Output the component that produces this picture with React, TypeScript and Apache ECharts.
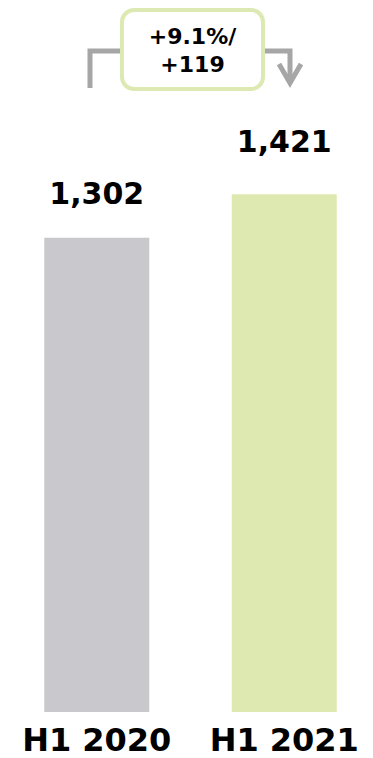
import React, { useEffect, useRef } from "react";
import * as echarts from "echarts";

const categories = ["H1 2020", "H1 2021"];
const values = [1302, 1421];
const barColors = ["#c8c8cd", "#dde9b0"];
const changeLines = ["+9.1%/", "+119"];

const FONT = "DejaVu Sans";

export default function App() {
  const ref = useRef<HTMLDivElement>(null);
  useEffect(() => {
    if (!ref.current) return;
    const chart = echarts.init(ref.current, null, { renderer: "svg" });
    const labelDistances = [29, 38];
    chart.setOption({
      animation: false,
      grid: { left: 3, width: 375, top: 100, bottom: 46, containLabel: false },
      xAxis: {
        type: "category",
        data: categories,
        axisLine: { show: false },
        axisTick: { show: false },
        axisLabel: {
          interval: 0,
          hideOverlap: false,
          fontFamily: FONT,
          fontWeight: "bold",
          fontSize: 32,
          color: "#000",
          margin: 12,
        },
      },
      yAxis: {
        type: "value",
        min: 0,
        max: 1680,
        show: false,
        splitLine: { show: false },
      },
      series: [
        {
          type: "bar",
          barWidth: 105,
          data: values.map((v, i) => ({
            value: v,
            itemStyle: { color: barColors[i] },
            label: {
              show: true,
              position: "top",
              distance: labelDistances[i],
              formatter: (p: any) => p.value.toLocaleString("en-US"),
              fontFamily: FONT,
              fontWeight: "bold",
              fontSize: 30,
              color: "#000",
            },
          })),
        },
      ],
      graphic: [
        {
          type: "polyline",
          shape: { points: [[90, 88], [90, 51], [122, 51]] },
          style: { stroke: "#a6a6a6", lineWidth: 5, fill: null },
        },
        {
          type: "polyline",
          shape: { points: [[263, 51], [290, 51], [290, 83]] },
          style: { stroke: "#a6a6a6", lineWidth: 5, fill: null },
        },
        {
          type: "polyline",
          shape: { points: [[279, 64], [290, 83], [301, 64]] },
          style: { stroke: "#a6a6a6", lineWidth: 5, fill: null },
        },
        {
          type: "rect",
          shape: { x: 122, y: 10, width: 141, height: 79, r: 12 },
          style: { fill: "#ffffff", stroke: "#dde9b3", lineWidth: 4 },
        },
        {
          type: "text",
          x: 192.5,
          y: 50,
          style: {
            text: changeLines.join("\n"),
            font: `bold 22px "${FONT}"`,
            fill: "#000",
            textAlign: "center",
            textVerticalAlign: "middle",
            lineHeight: 28,
          },
        },
      ],
    });
    return () => chart.dispose();
  }, []);
  return (
    <div
      style={{
        position: "absolute",
        left: 0,
        top: 0,
        width: 373,
        height: 758,
        overflow: "hidden",
      }}
    >
      <div ref={ref} style={{ width: 380, height: 758 }} />
    </div>
  );
}
